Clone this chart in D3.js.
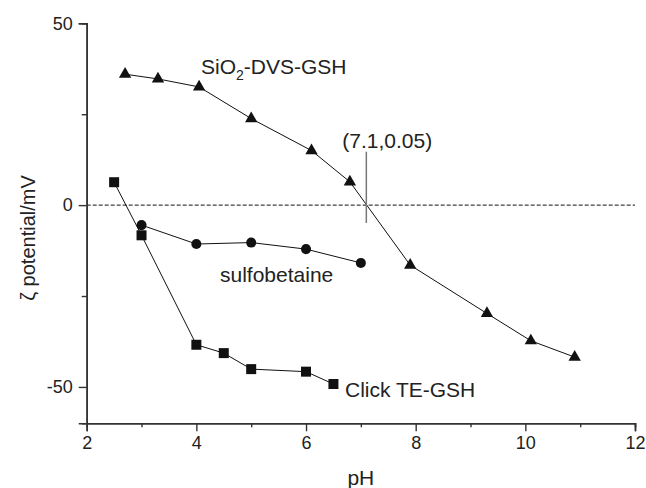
<!DOCTYPE html>
<html>
<head>
<meta charset="utf-8">
<script src="https://cdn.jsdelivr.net/npm/d3@7"></script>
<style>
  body { margin: 0; background: #fff; }
  text { font-family: "Liberation Sans", Arial, sans-serif; fill: #222; }
</style>
</head>
<body>
<div id="chart"></div>
<script>
'use strict';

// SiO2-DVS-GSH (triangles)
var dvsPH = [2.7, 3.3, 4.05, 5.0, 6.1, 6.8, 7.9, 9.3, 10.1, 10.9];
var dvsZeta = [36, 34.7, 32.5, 23.8, 15, 6.4, -16.5, -29.8, -37.3, -41.8];

// sulfobetaine (circles)
var sbPH = [3.0, 4.0, 5.0, 6.0, 7.0];
var sbZeta = [-5.5, -10.7, -10.3, -12.1, -15.9];

// Click TE-GSH (squares)
var clickPH = [2.5, 3.0, 4.0, 4.5, 5.0, 6.0, 6.5];
var clickZeta = [6.3, -8.3, -38.4, -40.7, -45.1, -45.8, -49.2];

var xTicks = [2, 4, 6, 8, 10, 12];
var xMinorTicks = [3, 5, 7, 9, 11];
var yTicks = [-50, 0, 50];
var yMinorTicks = [-25, 25];

var isoPoint = { ph: 7.1, zeta: 0.05, label: '(7.1,0.05)' };

var width = 646, height = 488;
var margin = { top: 23.3, right: 11, bottom: 64.7, left: 86.7 };
var innerW = width - margin.left - margin.right;
var innerH = height - margin.top - margin.bottom;

var x = d3.scaleLinear().domain([2, 12]).range([0, innerW]);
var y = d3.scaleLinear().domain([-60, 50]).range([innerH, 0]);

// plain hyphen for negatives, like the original
var fmt = function(d) { return String(d); };

var svg = d3.select('#chart').append('svg')
    .attr('width', width)
    .attr('height', height)
  .append('g')
    .attr('transform', 'translate(' + margin.left + ',' + margin.top + ')');

// zero line
svg.append('line')
    .attr('x1', 0).attr('x2', innerW)
    .attr('y1', y(0)).attr('y2', y(0))
    .attr('stroke', '#111')
    .attr('stroke-width', 1)
    .attr('stroke-dasharray', '4,2');

// axes
var axisColor = '#333';
var xAxis = d3.axisBottom(x).tickValues(xTicks).tickSize(8).tickPadding(5).tickFormat(fmt);
var xAxisMinor = d3.axisBottom(x).tickValues(xMinorTicks).tickSize(4).tickFormat('');
var yAxis = d3.axisLeft(y).tickValues(yTicks).tickSize(8).tickPadding(6).tickFormat(fmt);
var yAxisMinor = d3.axisLeft(y).tickValues(yMinorTicks).tickSize(5).tickFormat('');

function styleAxis(g) {
  g.select('.domain').attr('stroke', axisColor).attr('stroke-width', 1.6);
  g.selectAll('.tick line').attr('stroke', axisColor).attr('stroke-width', 1.4);
  g.selectAll('.tick text')
      .style('font-family', '"Liberation Sans", Arial, sans-serif')
      .style('font-size', '18px')
      .attr('fill', '#222');
}

svg.append('g').attr('transform', 'translate(0,' + innerH + ')').call(xAxisMinor).call(styleAxis);
svg.append('g').attr('transform', 'translate(0,' + innerH + ')').call(xAxis).call(styleAxis);
svg.append('g').call(yAxisMinor).call(styleAxis);
svg.append('g').call(yAxis).call(styleAxis);

// axis labels
svg.append('text')
    .attr('x', innerW / 2)
    .attr('y', innerH + 62)
    .attr('text-anchor', 'middle')
    .style('font-size', '21px')
    .text('pH');

svg.append('text')
    .attr('transform', 'translate(' + (35 - margin.left) + ',' + (238 - margin.top) + ') rotate(-90)')
    .attr('text-anchor', 'middle')
    .style('font-size', '20px')
    .text('ζ potential/mV');

// series
function zip(xs, ys) {
  return xs.map(function(d, i) { return { ph: d, zeta: ys[i] }; });
}

var line = d3.line()
    .x(function(d) { return x(d.ph); })
    .y(function(d) { return y(d.zeta); });

var series = [
  { data: zip(dvsPH, dvsZeta), symbol: d3.symbolTriangle, size: 66 },
  { data: zip(sbPH, sbZeta), symbol: d3.symbolCircle, size: 80 },
  { data: zip(clickPH, clickZeta), symbol: d3.symbolSquare, size: 100 }
];

series.forEach(function(s) {
  svg.append('path')
      .datum(s.data)
      .attr('fill', 'none')
      .attr('stroke', '#111')
      .attr('stroke-width', 1)
      .attr('d', line);

  svg.selectAll(null)
      .data(s.data)
      .enter().append('path')
      .attr('transform', function(d) { return 'translate(' + x(d.ph) + ',' + y(d.zeta) + ')'; })
      .attr('d', d3.symbol().type(s.symbol).size(s.size))
      .attr('fill', '#111');
});

// isoelectric marker
svg.append('line')
    .attr('x1', x(isoPoint.ph)).attr('x2', x(isoPoint.ph))
    .attr('y1', y(14.7)).attr('y2', y(-4.9))
    .attr('stroke', '#777')
    .attr('stroke-width', 1.5);

svg.append('text')
    .attr('x', 342.3 - margin.left)
    .attr('y', 148 - margin.top)
    .style('font-size', '21px')
    .text(isoPoint.label);

// series labels
var sio2 = svg.append('text')
    .attr('x', 201 - margin.left)
    .attr('y', 74 - margin.top)
    .style('font-size', '21px');
sio2.append('tspan').text('SiO');
sio2.append('tspan').attr('dy', 6).style('font-size', '14px').text('2');
sio2.append('tspan').attr('dy', -6).text('-DVS-GSH');

svg.append('text')
    .attr('x', 220 - margin.left)
    .attr('y', 282 - margin.top)
    .style('font-size', '21px')
    .text('sulfobetaine');

svg.append('text')
    .attr('x', 345 - margin.left)
    .attr('y', 397 - margin.top)
    .style('font-size', '21px')
    .text('Click TE-GSH');
</script>
</body>
</html>
